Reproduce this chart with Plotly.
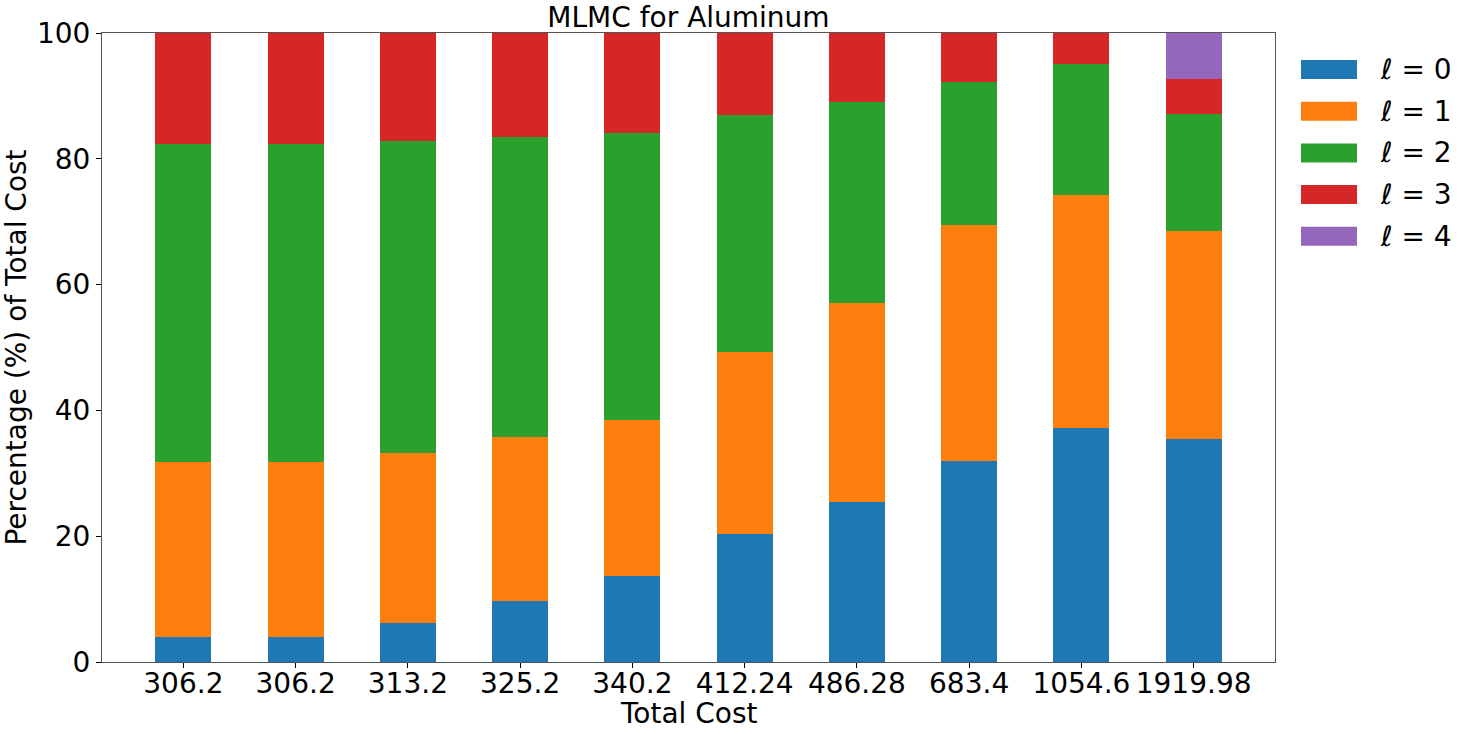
import plotly.graph_objects as go

# ---- data ----
tick_labels = ["306.2", "306.2", "313.2", "325.2", "340.2",
               "412.24", "486.28", "683.4", "1054.6", "1919.98"]
level_names = ["ℓ = 0", "ℓ = 1", "ℓ = 2", "ℓ = 3", "ℓ = 4"]
level0 = [4.0, 4.0, 6.15, 9.65, 13.6, 20.35, 25.45, 32.0, 37.2, 35.4]
level1 = [27.75, 27.75, 27.05, 26.15, 24.9, 29.0, 31.65, 37.5, 37.1, 33.1]
level2 = [50.65, 50.65, 49.65, 47.7, 45.6, 37.55, 31.9, 22.7, 20.7, 18.6]
level3 = [17.6, 17.6, 17.15, 16.5, 15.9, 13.1, 11.0, 7.8, 5.0, 5.6]
level4 = [0, 0, 0, 0, 0, 0, 0, 0, 0, 7.3]
colors = ["#1f77b4", "#ff7f0e", "#2ca02c", "#d62728", "#9467bd"]

series = [level0, level1, level2, level3, level4]
xpos = list(range(len(tick_labels)))

FONT = "DejaVu Sans"
FS = 28

fig = go.Figure()
for name, vals, col in zip(level_names, series, colors):
    fig.add_trace(go.Bar(x=xpos, y=vals, name=name, width=0.5,
                         marker=dict(color=col, line=dict(width=0)),
                         showlegend=False))

# custom legend (matplotlib-like wide patches)
W, H = 1478, 734
ml, mr, mt, mb = 102, 203, 33, 72
pw, ph = W - ml - mr, H - mt - mb
for i, (name, col) in enumerate(zip(level_names, colors)):
    yc = 69.5 + i * 41.7
    x0 = (1301 - ml) / pw
    x1 = (1357 - ml) / pw
    y0 = 1 - (yc - 9.5 - mt) / ph
    y1 = 1 - (yc + 9.5 - mt) / ph
    fig.add_shape(type="rect", xref="paper", yref="paper",
                  x0=x0, x1=x1, y0=y1, y1=y0,
                  fillcolor=col, line=dict(width=0))
    fig.add_annotation(xref="paper", yref="paper",
                       x=(1378 - ml) / pw, y=1 - (yc - mt) / ph,
                       text=name, showarrow=False, xanchor="left",
                       yanchor="middle",
                       font=dict(family=FONT, size=FS, color="black"))

# x-axis title placed as annotation below the tick labels
fig.add_annotation(xref="paper", yref="paper", x=0.5,
                   y=1 - (713 - mt) / ph, text="Total Cost",
                   showarrow=False, xanchor="center", yanchor="middle",
                   font=dict(family=FONT, size=FS, color="black"))

fig.update_layout(
    width=W, height=H,
    margin=dict(l=ml, r=mr, t=mt, b=mb, autoexpand=False),
    plot_bgcolor="white", paper_bgcolor="white",
    barmode="stack",
    title=dict(text="MLMC for Aluminum", x=0.5, xref="paper",
               y=1 - 17 / H, yref="container", yanchor="middle",
               font=dict(family=FONT, size=FS, color="black")),
    font=dict(family=FONT, size=FS, color="black"),
)
fig.update_xaxes(
    range=[-0.725, 9.725], tickmode="array", tickvals=xpos,
    ticktext=tick_labels, ticks="outside", ticklen=5, tickwidth=1,
    tickcolor="black", showline=True, linecolor="#555", linewidth=1,
    mirror=True, showgrid=False, zeroline=False, automargin=False,
    ticklabelstandoff=-9,
    tickfont=dict(family=FONT, size=FS, color="black"),
)
fig.update_yaxes(
    range=[0, 100], tickvals=[0, 20, 40, 60, 80, 100],
    ticks="outside", ticklen=5, tickwidth=1, tickcolor="black",
    showline=True, linecolor="#555", linewidth=1, mirror=True,
    showgrid=False, zeroline=False, automargin=False,
    tickfont=dict(family=FONT, size=FS, color="black"),
    title=dict(text="Percentage (%) of Total Cost", standoff=4,
               font=dict(family=FONT, size=FS, color="black")),
)

fig.write_html("out.html")
